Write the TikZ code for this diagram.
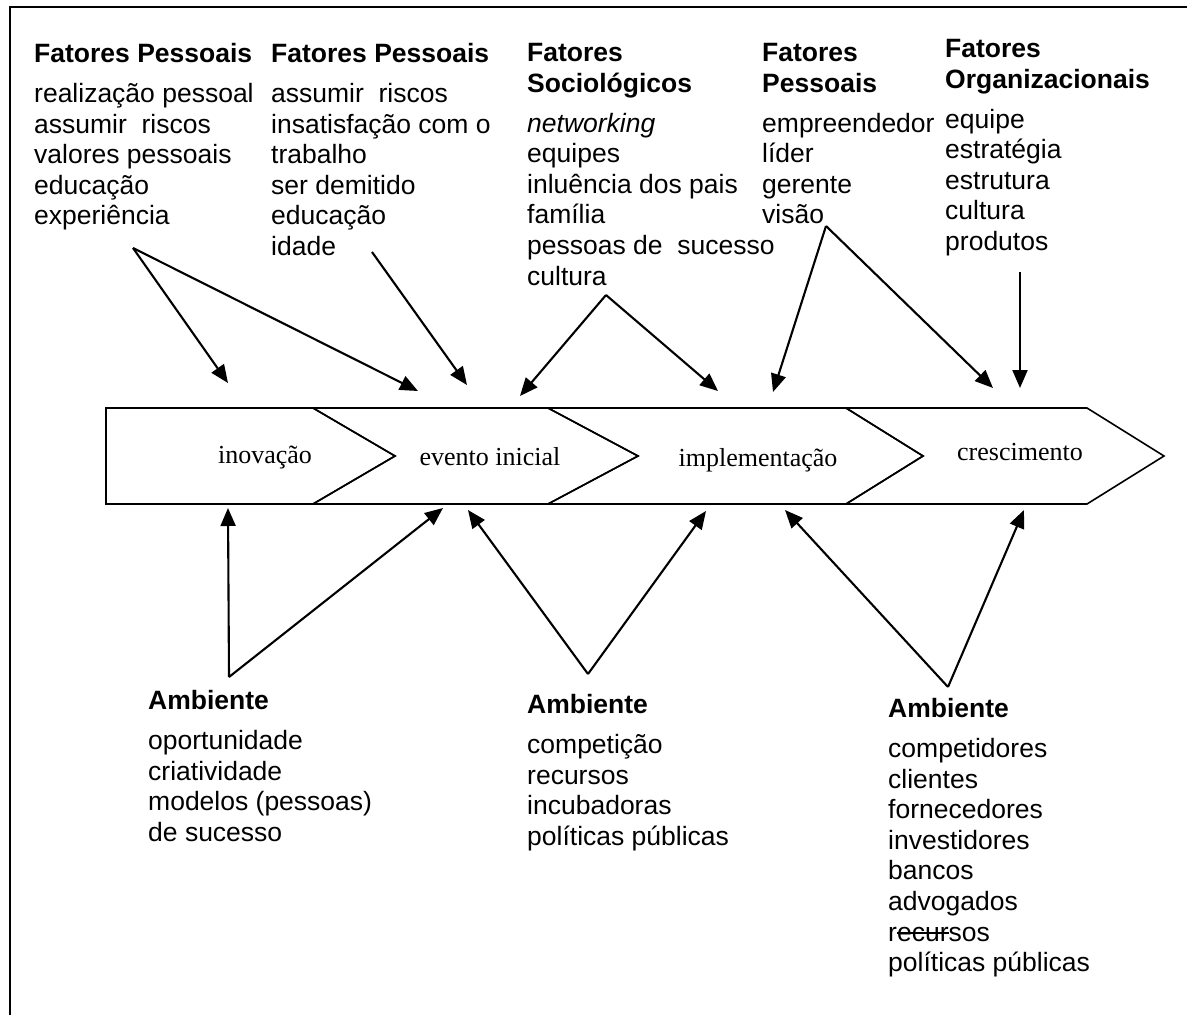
\documentclass[tikz,border=0pt]{standalone}
\usepackage{fontspec}
\setmainfont{Liberation Sans}
\newfontfamily\serifface{Liberation Serif}
\usetikzlibrary{arrows.meta}
\newcommand\strikeover[1]{\setbox0\hbox{#1}\rlap{\rule[0.27em]{\wd0}{0.07em}}\box0}
\tikzset{
  every picture/.style={x=1pt,y=-1pt},
  txt/.style={anchor=north west,inner sep=0pt,align=left,
    font=\fontsize{26.5}{30.6}\selectfont},
  stage/.style={inner sep=0pt,font=\serifface\fontsize{26}{30}\selectfont},
  chev/.style={draw,line width=1.6pt,line join=miter},
  arr/.style={line width=2.1pt,-{Triangle[length=18pt,width=15pt]}},
  frameline/.style={line width=2.2pt}
}
\begin{document}
\begin{tikzpicture}
\useasboundingbox (0,0) rectangle (1187,1015);
% frame
\draw[frameline] (10,1015) -- (10,7) -- (1187,7);

% process chevrons
\draw[chev] (106,408) -- (313,408) -- (395,456) -- (313,504) -- (106,504) -- cycle;
\draw[chev] (313,408) -- (548,408) -- (638,456) -- (548,504) -- (313,504) -- (395,456) -- cycle;
\draw[chev] (548,408) -- (846,408) -- (923,456) -- (846,504) -- (548,504) -- (638,456) -- cycle;
\draw[chev] (846,408) -- (1087,408) -- (1164,456) -- (1087,504) -- (846,504) -- (923,456) -- cycle;
\draw[line width=1.6pt] (548,407.4) -- (570,407.4);
\node[stage] (s1) at (265,458) {inovação};
\node[stage] (s2) at (490,457) {evento inicial};
\node[stage] (s3) at (758,460) {implementação};
\node[stage] (s4) at (1020,452) {crescimento};

% factor lists above
\node[txt] (f1) at (34,43) {\textbf{Fatores Pessoais}\\[9.4pt]realização pessoal\\assumir\ \ riscos\\valores pessoais\\educação\\experiência};
\node[txt] (f2) at (271,43) {\textbf{Fatores Pessoais}\\[9.4pt]assumir\ \ riscos\\insatisfação com o\\trabalho\\ser demitido\\educação\\idade};
\node[txt] (f3) at (527,43) {\textbf{Fatores}\\\textbf{Sociológicos}\\[9.4pt]\textit{networking}\\equipes\\inluência dos pais\\família\\pessoas de\ \ sucesso\\cultura};
\node[txt] (f4) at (762,43) {\textbf{Fatores}\\\textbf{Pessoais}\\[9.4pt]empreendedor\\líder\\gerente\\visão};
\node[txt] (f5) at (945,39) {\textbf{Fatores}\\\textbf{Organizacionais}\\[9.4pt]equipe\\estratégia\\estrutura\\cultura\\produtos};

% environment lists below
\node[txt] (e1) at (148,690) {\textbf{Ambiente}\\[9.4pt]oportunidade\\criatividade\\modelos (pessoas)\\de sucesso};
\node[txt] (e2) at (527,694) {\textbf{Ambiente}\\[9.4pt]competição\\recursos\\incubadoras\\políticas públicas};
\node[txt] (e3) at (888,698) {\textbf{Ambiente}\\[9.4pt]competidores\\clientes\\fornecedores\\investidores\\bancos\\advogados\\r\strikeover{ecur}sos\\políticas públicas};

% arrow origins and targets
\coordinate (a1) at (133,248);
\coordinate (a2) at (372,252);
\coordinate (a3) at (606,295);
\coordinate (a4) at (826,226);
\coordinate (a5) at (1020,272);
\coordinate (t1a) at (228,383);
\coordinate (t1b) at (418,391);
\coordinate (t2) at (467,385);
\coordinate (t3a) at (520,396);
\coordinate (t3b) at (718,391);
\coordinate (t4a) at (773,392);
\coordinate (t4b) at (993,388);
\coordinate (t5) at (1020,388);

\coordinate (b1) at (229,677);
\coordinate (b2) at (588,674);
\coordinate (b3) at (948,687);
\coordinate (u1a) at (228,508);
\coordinate (u1b) at (443,508);
\coordinate (u2a) at (468,510);
\coordinate (u2b) at (706,511);
\coordinate (u3a) at (785,510);
\coordinate (u3b) at (1024,510);

\draw[arr] (a1) -- (t1a);
\draw[arr] (a1) -- (t1b);
\draw[arr] (a2) -- (t2);
\draw[arr] (a3) -- (t3a);
\draw[arr] (a3) -- (t3b);
\draw[arr] (a4) -- (t4a);
\draw[arr] (a4) -- (t4b);
\draw[arr] (a5) -- (t5);

\draw[arr] (b1) -- (u1a);
\draw[arr] (b1) -- (u1b);
\draw[arr] (b2) -- (u2a);
\draw[arr] (b2) -- (u2b);
\draw[arr] (b3) -- (u3a);
\draw[arr] (b3) -- (u3b);
\end{tikzpicture}
\end{document}
